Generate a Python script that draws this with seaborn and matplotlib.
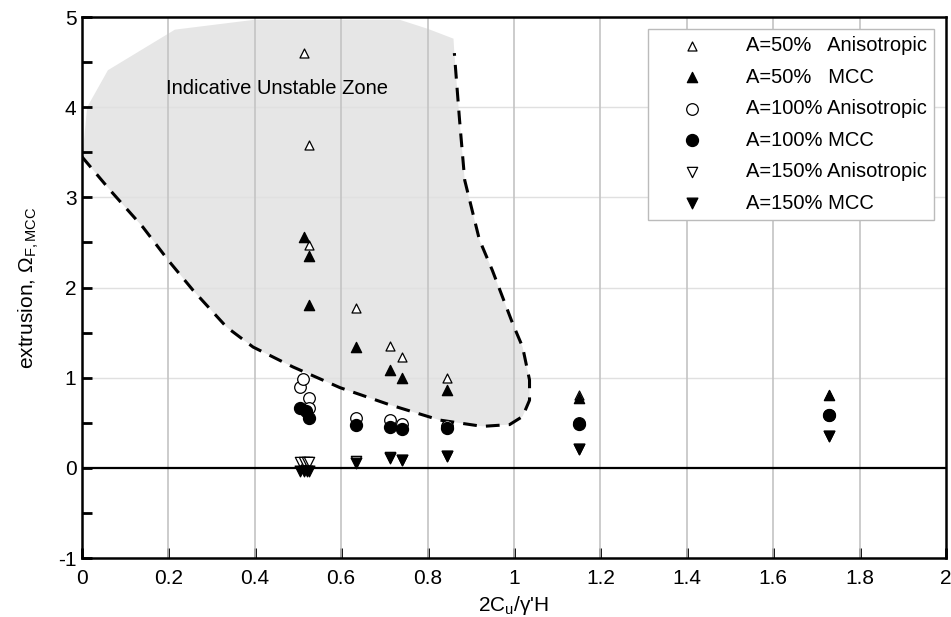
import numpy as np
import pandas as pd
import matplotlib
matplotlib.use("Agg")
import matplotlib.pyplot as plt
import seaborn as sns

# ---- data ----
tri50_aniso_x = [0.513, 0.525, 0.525, 0.635, 0.714, 0.74, 0.845, 1.15, 1.73]
tri50_aniso_y = [4.60, 3.58, 2.47, 1.77, 1.35, 1.23, 1.00, 0.81, 0.81]
tri50_mcc_x = [0.513, 0.525, 0.525, 0.635, 0.714, 0.74, 0.845, 1.15, 1.73]
tri50_mcc_y = [2.56, 2.35, 1.81, 1.34, 1.09, 1.00, 0.86, 0.78, 0.81]
c100_aniso_x = [0.505, 0.512, 0.525, 0.525, 0.635, 0.714, 0.74, 0.845, 1.15, 1.73]
c100_aniso_y = [0.90, 0.99, 0.78, 0.66, 0.55, 0.53, 0.49, 0.46, 0.50, 0.59]
c100_mcc_x = [0.505, 0.518, 0.525, 0.635, 0.714, 0.74, 0.845, 1.15, 1.73]
c100_mcc_y = [0.66, 0.63, 0.55, 0.47, 0.45, 0.43, 0.44, 0.49, 0.59]
d150_aniso_x = [0.505, 0.513, 0.52, 0.525, 0.635, 0.714, 0.74, 0.845, 1.15, 1.73]
d150_aniso_y = [0.07, 0.07, 0.07, 0.07, 0.08, 0.12, 0.09, 0.13, 0.21, 0.35]
d150_mcc_x = [0.505, 0.513, 0.52, 0.525, 0.635, 0.714, 0.74, 0.845, 1.15, 1.73]
d150_mcc_y = [-0.03, -0.04, -0.03, -0.04, 0.05, 0.11, 0.09, 0.13, 0.21, 0.35]

# boundary of the indicative unstable zone (dashed part)
zone_dash_x = [0.0, 0.065, 0.141, 0.2, 0.257, 0.335, 0.396, 0.488, 0.597, 0.712,
               0.828, 0.927, 0.99, 1.02, 1.036, 1.036, 1.02, 0.997, 0.95, 0.92,
               0.886, 0.874, 0.862]
zone_dash_y = [3.45, 3.08, 2.67, 2.30, 1.97, 1.56, 1.34, 1.12, 0.89, 0.70,
               0.53, 0.46, 0.48, 0.57, 0.75, 0.975, 1.34, 1.60, 2.19, 2.53,
               3.19, 3.86, 4.60]
# upper (undashed) part of the shaded zone
zone_top_x = [0.86, 0.80, 0.735, 0.40, 0.215, 0.06, 0.012, 0.004, 0.0]
zone_top_y = [4.76, 4.87, 4.97, 4.97, 4.86, 4.41, 4.00, 3.60, 3.45]

x_ticks = [0, 0.2, 0.4, 0.6, 0.8, 1, 1.2, 1.4, 1.6, 1.8, 2]
x_ticklabels = ["0", "0.2", "0.4", "0.6", "0.8", "1", "1.2", "1.4", "1.6", "1.8", "2"]
y_ticks = [-1, 0, 1, 2, 3, 4, 5]
y_ticklabels = ["-1", "0", "1", "2", "3", "4", "5"]

series = [
    ("A=50%   Anisotropic", tri50_aniso_x, tri50_aniso_y, "^", "white", 42),
    ("A=50%   MCC", tri50_mcc_x, tri50_mcc_y, "^", "black", 55),
    ("A=100% Anisotropic", c100_aniso_x, c100_aniso_y, "o", "white", 70),
    ("A=100% MCC", c100_mcc_x, c100_mcc_y, "o", "black", 75),
    ("A=150% Anisotropic", d150_aniso_x, d150_aniso_y, "v", "white", 55),
    ("A=150% MCC", d150_mcc_x, d150_mcc_y, "v", "black", 60),
]

sns.set_style("white")
plt.rcParams["font.family"] = ["Liberation Sans", "DejaVu Sans"]
plt.rcParams["mathtext.fontset"] = "custom"
plt.rcParams["mathtext.rm"] = "Liberation Sans"
plt.rcParams["mathtext.it"] = "Liberation Sans:italic"
plt.rcParams["axes.unicode_minus"] = False
plt.rcParams["text.color"] = "black"
plt.rcParams["axes.labelcolor"] = "black"
plt.rcParams["xtick.color"] = "black"
plt.rcParams["ytick.color"] = "black"

fig = plt.figure(figsize=(9.51, 6.17), dpi=100)
ax = fig.add_axes([0.0862, 0.0956, 0.9085, 0.8768])

# shaded zone
poly_x = zone_dash_x + zone_top_x
poly_y = zone_dash_y + zone_top_y
ax.fill(poly_x, poly_y, color="#e6e6e6", zorder=0, lw=0)

# grid
for xv in x_ticks[1:-1]:
    ax.axvline(xv, color="#c4c4c4", lw=1.2, zorder=1)
for yv in [1, 2, 3, 4]:
    ax.axhline(yv, color="#e0e0e0", lw=1.0, zorder=0.5)
ax.axhline(0, color="black", lw=1.6, zorder=2)

ax.plot(zone_dash_x, zone_dash_y, color="black", lw=2.2, ls=(0, (4.5, 3)), zorder=3)

for label, xs, ys, mk, fc, s in series:
    df = pd.DataFrame({"x": xs, "y": ys})
    sns.scatterplot(data=df, x="x", y="y", marker=mk, s=s, color=fc,
                    edgecolor="black", linewidth=0.9, label=label, ax=ax, zorder=4)

ax.text(0.194, 4.21, "Indicative Unstable Zone", fontsize=14.5, va="center", ha="left", zorder=5)

ax.set_xlim(0, 2)
ax.set_ylim(-1, 5)
ax.set_xticks(x_ticks)
ax.set_xticklabels(x_ticklabels)
ax.set_yticks(y_ticks)
ax.set_yticklabels(y_ticklabels)
ax.set_yticks(np.arange(-0.5, 5, 1.0), minor=True)
ax.tick_params(axis="both", which="both", direction="in", labelsize=15, width=2,
               color="black", bottom=True, left=True, top=False, right=False)
ax.tick_params(axis="both", which="major", length=7)
ax.tick_params(axis="y", which="minor", length=7)
ax.tick_params(axis="x", pad=8)
ax.tick_params(axis="y", pad=4)
for sp in ax.spines.values():
    sp.set_color("black")
    sp.set_linewidth(1.8)
    sp.set_visible(True)

ax.set_xlabel(r"2C$_{\mathrm{u}}$/γ'H", fontsize=15, labelpad=4)
ax.set_ylabel(r"extrusion, $\Omega_{\mathrm{F,MCC}}$", fontsize=15, labelpad=12)

leg = ax.legend(loc="upper right", bbox_to_anchor=(0.9865, 0.9775), fontsize=14.5,
                frameon=True, fancybox=False, edgecolor="#bbbbbb", framealpha=1,
                handletextpad=0.85, borderpad=0.35, labelspacing=0.62, borderaxespad=0,
                handlelength=3.7)
leg.get_frame().set_linewidth(1.0)
leg.set_zorder(10)

fig.savefig("out.png", dpi=100)
